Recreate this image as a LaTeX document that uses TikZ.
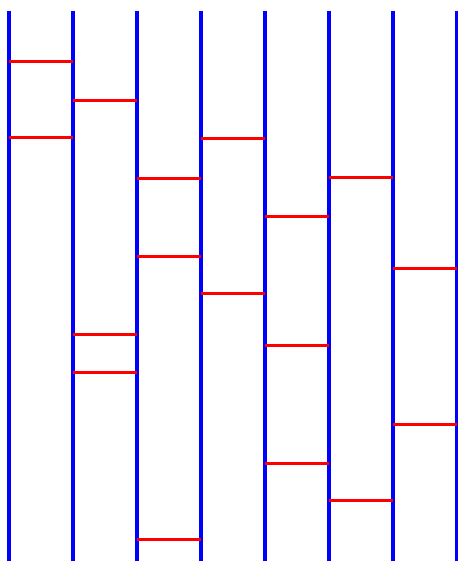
\documentclass[tikz,border=0pt]{standalone}
\usepackage{tikz}
\definecolor{railBlue}{HTML}{0000FF}
\definecolor{rungRed}{HTML}{FF0000}

\begin{document}
\begin{tikzpicture}[x=1pt, y=-1pt,
    rail/.style={draw=railBlue, line width=4.5pt},
    rung/.style={draw=rungRed, line width=3pt}]

  \useasboundingbox (0,0) rectangle (457,561);

  % vertical rails
  \foreach \i in {0,...,7} {
    \coordinate (top\i) at (9+64*\i, 11);
    \coordinate (bot\i) at (9+64*\i, 565);
    \draw[rail] (top\i) -- (bot\i);
  }

  % horizontal rungs: left rail / height
  \foreach \i/\h in {0/62, 0/138, 1/101, 1/334, 1/372, 2/179, 2/256, 2/539,
                     3/139, 3/293, 4/216, 4/345, 4/463, 5/178, 5/500, 6/268, 6/424} {
    \draw[rung] (9+64*\i, \h) -- ++(64,0);
  }
\end{tikzpicture}
\end{document}
